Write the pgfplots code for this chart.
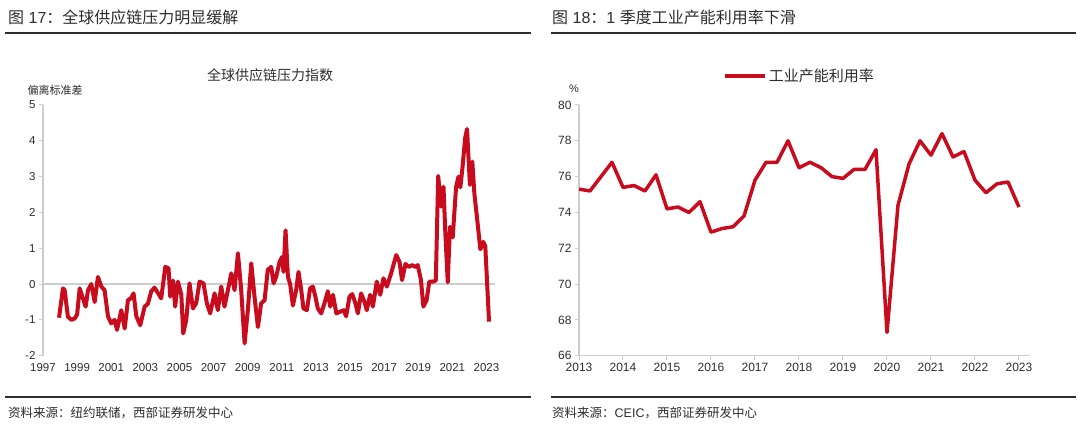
\documentclass[border=0pt]{standalone}
\usepackage{fontspec}
\setmainfont{Liberation Sans}
\newfontfamily\cjk{Noto Sans CJK SC}
\usepackage{pgfplots}
\pgfplotsset{compat=1.18}
\definecolor{sred}{RGB}{200,12,30}
\definecolor{txt}{RGB}{45,45,45}
\definecolor{axg}{RGB}{205,205,205}

\pgfplotstableread{
x y
1997.94 -0.94
1998.17 -0.12
1998.27 -0.17
1998.46 -0.91
1998.66 -1.00
1998.86 -0.96
1999.00 -0.85
1999.15 -0.12
1999.34 -0.40
1999.50 -0.63
1999.64 -0.17
1999.83 0.00
2000.03 -0.50
2000.22 0.20
2000.42 -0.07
2000.61 -0.17
2000.81 -0.90
2001.00 -1.10
2001.20 -1.00
2001.34 -1.28
2001.59 -0.73
2001.79 -1.24
2001.98 -0.45
2002.15 -0.40
2002.31 -0.26
2002.47 -0.90
2002.70 -1.15
2002.96 -0.63
2003.15 -0.55
2003.35 -0.20
2003.54 -0.10
2003.74 -0.25
2003.93 -0.40
2004.17 0.48
2004.36 0.44
2004.46 -0.35
2004.62 0.10
2004.75 -0.63
2004.91 0.07
2005.11 -0.30
2005.22 -1.38
2005.40 -1.00
2005.59 0.02
2005.79 -0.68
2005.98 -0.54
2006.18 0.07
2006.41 0.02
2006.61 -0.54
2006.80 -0.82
2007.06 -0.26
2007.25 -0.73
2007.45 -0.07
2007.64 -0.63
2007.84 -0.17
2008.04 0.30
2008.23 -0.17
2008.43 0.86
2008.62 -0.17
2008.82 -1.66
2009.01 -0.73
2009.21 0.58
2009.40 -0.35
2009.60 -1.20
2009.79 -0.54
2009.99 -0.45
2010.18 0.40
2010.38 0.48
2010.52 0.02
2010.67 0.20
2010.87 0.62
2011.02 0.76
2011.10 0.34
2011.22 1.50
2011.36 0.20
2011.49 0.00
2011.65 -0.60
2011.84 -0.17
2011.98 0.34
2012.14 -0.17
2012.27 -0.68
2012.47 -0.73
2012.66 -0.12
2012.82 -0.07
2012.97 -0.35
2013.11 -0.68
2013.31 -0.82
2013.50 -0.54
2013.70 -0.20
2013.84 -0.63
2014.00 -0.30
2014.20 -0.82
2014.43 -0.77
2014.63 -0.73
2014.77 -0.90
2014.97 -0.35
2015.13 -0.28
2015.32 -0.54
2015.46 -0.82
2015.65 -0.26
2015.85 -0.50
2015.98 -0.73
2016.18 -0.30
2016.34 -0.63
2016.57 0.07
2016.77 -0.30
2016.96 0.16
2017.16 -0.07
2017.41 0.30
2017.71 0.81
2017.90 0.62
2018.05 0.11
2018.25 0.56
2018.45 0.48
2018.64 0.53
2018.83 0.48
2018.97 0.53
2019.16 0.11
2019.30 -0.63
2019.49 -0.45
2019.65 0.07
2019.88 0.07
2020.03 0.10
2020.17 3.02
2020.33 2.16
2020.48 2.72
2020.59 1.40
2020.73 0.05
2020.86 1.60
2021.02 1.30
2021.22 2.72
2021.36 3.00
2021.47 2.70
2021.60 3.28
2021.75 4.08
2021.86 4.33
2022.03 2.77
2022.17 3.42
2022.29 2.53
2022.48 1.70
2022.64 0.97
2022.81 1.18
2022.93 1.06
2023.15 -1.05
}\gscpi

\pgfplotstableread{
x y
2013.00 75.3
2013.25 75.2
2013.50 76.0
2013.75 76.8
2014.00 75.4
2014.25 75.5
2014.50 75.2
2014.75 76.1
2015.00 74.2
2015.25 74.3
2015.50 74.0
2015.75 74.6
2016.00 72.9
2016.25 73.1
2016.50 73.2
2016.75 73.8
2017.00 75.8
2017.25 76.8
2017.50 76.8
2017.75 78.0
2018.00 76.5
2018.25 76.8
2018.50 76.5
2018.75 76.0
2019.00 75.9
2019.25 76.4
2019.50 76.4
2019.75 77.5
2020.00 67.3
2020.25 74.4
2020.50 76.7
2020.75 78.0
2021.00 77.2
2021.25 78.4
2021.50 77.1
2021.75 77.4
2022.00 75.8
2022.25 75.1
2022.50 75.6
2022.75 75.7
2023.00 74.3
}\capu

\begin{document}
\begin{tikzpicture}[x=1pt,y=1pt]
\useasboundingbox (0,0) rectangle (1080,427);
% ---------- headers and footers
\node[anchor=west, text=txt, font=\fontsize{16}{18}\selectfont, inner sep=0] at (8,410) {{\cjk 图} 17{\cjk ：全球供应链压力明显缓解}};
\draw[txt, line width=1.5] (5,394) -- (531,394);
\draw[txt, line width=1.5] (5,30) -- (531,30);
\node[anchor=west, text=txt, font=\cjk\fontsize{12.5}{14}\selectfont, inner sep=0] at (8,14) {资料来源：纽约联储，西部证券研发中心};

\node[anchor=west, text=txt, font=\fontsize{16}{18}\selectfont, inner sep=0] at (552,410) {{\cjk 图} 18{\cjk ：}1 {\cjk 季度工业产能利用率下滑}};
\draw[txt, line width=1.5] (551,394) -- (1076,394);
\draw[txt, line width=1.5] (551,30) -- (1076,30);
\node[anchor=west, text=txt, font=\fontsize{12.5}{14}\selectfont, inner sep=0] at (552,14) {{\cjk 资料来源：}CEIC{\cjk ，西部证券研发中心}};

% ---------- left chart
\node[text=txt, font=\cjk\fontsize{14}{16}\selectfont] at (270,352) {全球供应链压力指数};
\node[text=txt, font=\cjk\fontsize{11}{12}\selectfont] at (55,337) {偏离标准差};
\begin{axis}[
  at={(43pt,71.3pt)}, anchor=south west, scale only axis,
  width=452pt, height=250.7pt,
  xmin=1997, xmax=2023.5, ymin=-2, ymax=5,
  axis x line*=bottom, axis y line*=left,
  x axis line style={draw=none},
  y axis line style={axg, line width=1.2pt, -},
  xtick={1997,1999,...,2023}, ytick={-2,-1,...,5},
  xtick style={draw=none},
  ytick style={axg, line width=1pt},
  tick align=outside, major tick length=4pt,
  extra y ticks={0}, extra y tick labels={},
  extra y tick style={grid=major, major grid style={axg, line width=1.3pt}, ytick style={draw=none}},
  tick label style={text=txt, font=\fontsize{11.5}{13}\selectfont},
  /pgf/number format/assume math mode=true,
  /pgf/number format/1000 sep={},
]
\addplot[sred, line width=4pt, line join=round, no markers] table {\gscpi};
\end{axis}

% ---------- right chart
\node[text=txt, font=\fontsize{11}{12}\selectfont] at (574,338) {\%};
\begin{axis}[
  at={(579pt,71.3pt)}, anchor=south west, scale only axis,
  width=451pt, height=250.7pt,
  xmin=2013, xmax=2023.25, ymin=66, ymax=80,
  axis x line*=bottom, axis y line*=left,
  axis line style={axg, line width=1.2pt, -},
  xtick={2013,...,2023}, ytick={66,68,...,80},
  tick style={axg, line width=1pt},
  tick align=outside, major tick length=4pt,
  tick label style={text=txt, font=\fontsize{12}{14}\selectfont},
  /pgf/number format/assume math mode=true,
  /pgf/number format/1000 sep={},
  legend style={at={(0.488,1.116)}, anchor=center, draw=none, fill=none,
    font=\cjk\fontsize{15}{16}\selectfont, text=txt, inner sep=0pt},
  legend image code/.code={\draw[#1, line width=4.5pt] (0pt,0pt) -- (40pt,0pt);},
]
\addplot[sred, line width=3.5pt, line join=round, no markers] table {\capu};
\addlegendentry{工业产能利用率}
\end{axis}
\end{tikzpicture}
\end{document}
